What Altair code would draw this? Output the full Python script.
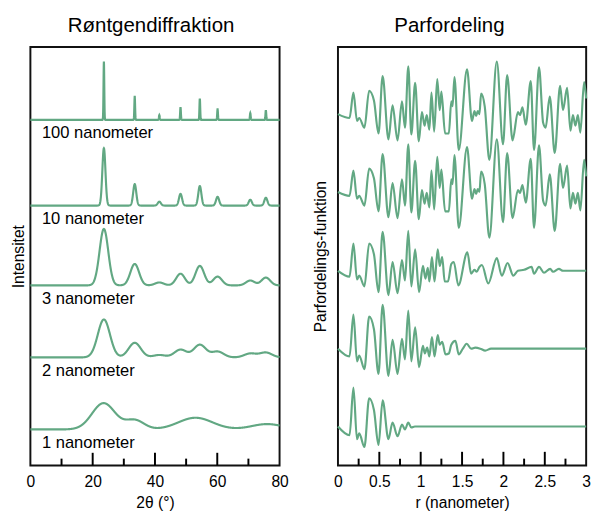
import altair as alt
import numpy as np
import pandas as pd

GREEN = "#62a883"
FONT = "Liberation Sans"

SIZES = ["100 nanometer", "10 nanometer", "3 nanometer", "2 nanometer", "1 nanometer"]
XRD_OFFSETS = [355, 267, 185, 111, 37]
PDF_OFFSETS = [360, 280, 200, 120, 40]

# ---- X-ray diffraction peaks (2theta, height, width) ----
XRD_POS = [23.6, 33.5, 41.4, 48.2, 54.4, 60.1, 70.6, 75.6]
XRD_H_100 = [60, 24, 5, 13, 22, 11, 7, 10]
XRD_H_10 = [59, 22, 4, 12, 20, 9, 6, 8]
XRD_H_3 = [58, 22, 3, 12, 20, 9, 5, 8]
XRD_H_2 = [39, 15, 2.5, 8, 13, 6, 4, 5]
XRD_W_100 = 0.12
XRD_W_10 = 0.5
XRD_W_3 = 1.4
XRD_W_2 = 1.95
XRD_POS_1 = [23.5, 33.5, 53.0, 76.0]
XRD_H_1 = [27, 9.5, 12, 5.5]
XRD_W_1 = [3.7, 3.0, 5.5, 5.0]

# ---- pair distribution function, read extrema (r in nm, g relative) ----
PDF_R_100 = [0, 0.14, 0.187, 0.23, 0.257, 0.32, 0.377, 0.435, 0.49, 0.54, 0.61, 0.66, 0.72, 0.774, 0.81,
             0.85, 0.887, 0.933, 0.977, 1.015, 1.047, 1.073, 1.105, 1.13, 1.163, 1.20, 1.23, 1.25, 1.295,
             1.34, 1.37, 1.385, 1.408, 1.46, 1.56, 1.62, 1.65, 1.67, 1.69, 1.71, 1.73, 1.774, 1.83, 1.92,
             1.995, 2.045, 2.11, 2.175, 2.20, 2.23, 2.27, 2.33, 2.37, 2.43, 2.48, 2.51, 2.56, 2.62, 2.685,
             2.72, 2.77, 2.81, 2.84, 2.87, 2.90, 2.93, 2.975, 3.0]
PDF_G_100 = [1, -3, 23, -6, -3, -13, 25, 15, -19, 40, -25, 10, -26, 14, -13,
             50, -20, 33, -27, 3, -11, 0, -15, 23, -17, 37, 5, 24, -19,
             -19, 14, 9, 39, -36, 47, -6, 4, -1, 4, 1, 22, 9, -46, 55,
             -30, 41, -26, 3, 0, 8, -10, 35, -36, 49, -8, -13, 19, -39, 30,
             5, 28, -16, 0, -11, 0, -18, 34, 17]
PDF_R_10 = PDF_R_100
PDF_G_10 = PDF_G_100
PDF_R_3 = [0, 0.14, 0.187, 0.23, 0.257, 0.32, 0.377, 0.435, 0.49, 0.54, 0.61, 0.66, 0.72, 0.774, 0.81,
           0.85, 0.887, 0.933, 0.98, 1.027, 1.058, 1.086, 1.105, 1.136, 1.167, 1.206, 1.23, 1.26, 1.29,
           1.33, 1.37, 1.40, 1.455, 1.564, 1.61, 1.65, 1.677, 1.71, 1.74, 1.817, 1.92, 1.98, 2.05, 2.12,
           2.175, 2.25, 2.34, 2.37, 2.43, 2.49, 2.565, 2.60, 2.67, 2.72, 3.0]
PDF_G_3 = [0, -6, 28, -9, -5, -16, 28, 17, -22, 40, -25, 9, -23, 11, -10,
           41, -16, 22, -22, 5, -8, 3, -11, 14, -11, 22, 5, 14, -11,
           -11, 7, 9, -15, 19, -3, 1, -1, 4, 6, -13, 13, -5, 8, -5,
           0, 1, 4, -3, 4, -2, 2, -1, 2, 0, 0]
PDF_R_2 = [0, 0.14, 0.187, 0.23, 0.257, 0.32, 0.377, 0.435, 0.49, 0.54, 0.61, 0.66, 0.72, 0.774, 0.81,
           0.85, 0.887, 0.933, 0.98, 1.027, 1.05, 1.078, 1.105, 1.136, 1.167, 1.206, 1.23, 1.26, 1.30,
           1.34, 1.37, 1.42, 1.46, 1.51, 1.556, 1.61, 1.66, 1.72, 1.78, 1.85, 3.0]
PDF_G_2 = [0, -8, 35, -13, -7, -21, 33, 20, -26, 45, -28, 9, -26, 10, -11,
           39, -13, 22, -19, 3, -5, 1, -8, 12, -8, 14, 4, 7, -6,
           -5, 4, 8, -6, 0, 5, 0, 1, 0, -2, 0, 0]
PDF_R_1 = [0, 0.14, 0.187, 0.23, 0.257, 0.32, 0.377, 0.435, 0.49, 0.54, 0.61, 0.66, 0.72, 0.774, 0.81,
           0.85, 0.887, 0.93, 3.0]
PDF_G_1 = [0, -9, 40, -13, -7, -21, 29, 17, -19, 27, -13, 4, -10, 2, -3, 4, -1, 0, 0]

XRD_TICKS_MAJOR = [20, 40, 60]
XRD_TICKS_MINOR = [10, 30, 50, 70]
PDF_TICKS_MAJOR = [0.5, 1, 1.5, 2, 2.5]
PDF_TICKS_MINOR = [0.25, 0.75, 1.25, 1.75, 2.25, 2.75]

# ---- build tables ----
grid = np.arange(0, 80.0001, 0.04)


def peaks(pos, hs, ws):
    ws = ws if isinstance(ws, list) else [ws] * len(pos)
    y = np.zeros_like(grid)
    for p, h, w in zip(pos, hs, ws):
        y += h * np.exp(-((grid - p) ** 2) / (2 * w * w))
    return y


xrd_specs = [
    (XRD_POS, XRD_H_100, XRD_W_100),
    (XRD_POS, XRD_H_10, XRD_W_10),
    (XRD_POS, XRD_H_3, XRD_W_3),
    (XRD_POS, XRD_H_2, XRD_W_2),
    (XRD_POS_1, XRD_H_1, XRD_W_1),
]
xrd_frames = []
for name, off, (p, h, w) in zip(SIZES, XRD_OFFSETS, xrd_specs):
    xrd_frames.append(pd.DataFrame({"x": grid, "y": peaks(p, h, w) + off, "size": name}))
df_xrd = pd.concat(xrd_frames)

pdf_specs = [(PDF_R_100, PDF_G_100), (PDF_R_10, PDF_G_10), (PDF_R_3, PDF_G_3),
             (PDF_R_2, PDF_G_2), (PDF_R_1, PDF_G_1)]
pdf_frames = []
for name, off, (r, g) in zip(SIZES, PDF_OFFSETS, pdf_specs):
    pdf_frames.append(pd.DataFrame({"r": r, "g": np.array(g, float) + off, "size": name}))
df_pdf = pd.concat(pdf_frames)

df_lab = pd.DataFrame({"x": [3.7] * 5, "y": XRD_OFFSETS, "label": SIZES})

WL, WR, H = 256, 255, 430

xs = alt.Scale(domain=[0, 80], nice=False, zero=False)
ys = alt.Scale(domain=[0, H], nice=False, zero=False)
rs = alt.Scale(domain=[0, 3], nice=False, zero=False)

yaxis_l = alt.Axis(title="Intensitet", labels=False, ticks=False, grid=False, domain=False, titlePadding=4)
yaxis_r = alt.Axis(title="Parfordelings-funktion", labels=False, ticks=False, grid=False, domain=False,
                   titlePadding=10)

xrd_line = alt.Chart(df_xrd).mark_line(color=GREEN, strokeWidth=2.2).encode(
    x=alt.X("x:Q", scale=xs, axis=alt.Axis(values=[0, 20, 40, 60, 80], title="2θ (°)", grid=False,
                                            domain=False, ticks=False, tickSize=0, labelPadding=9,
                                            labelFlush=False, titlePadding=5)),
    y=alt.Y("y:Q", scale=ys, axis=yaxis_l),
    detail="size:N",
)
xrd_text = alt.Chart(df_lab).mark_text(align="left", baseline="alphabetic", dy=19, font=FONT,
                                       fontSize=17, color="black").encode(
    x=alt.X("x:Q", scale=xs), y=alt.Y("y:Q", scale=ys), text="label:N")
xrd_major = alt.Chart(pd.DataFrame({"t": XRD_TICKS_MAJOR})).mark_rule(color="black", strokeWidth=2).encode(
    x=alt.X("t:Q", scale=xs), y=alt.value(H), y2=alt.value(H - 13))
xrd_minor = alt.Chart(pd.DataFrame({"t": XRD_TICKS_MINOR})).mark_rule(color="black", strokeWidth=2).encode(
    x=alt.X("t:Q", scale=xs), y=alt.value(H), y2=alt.value(H - 7))

left = alt.layer(xrd_line, xrd_text, xrd_major, xrd_minor).properties(
    width=WL, height=H,
    title=alt.TitleParams("Røntgendiffraktion", fontSize=21, font=FONT, fontWeight="normal",
                          anchor="middle", offset=11, color="black", dx=-4))

pdf_line = alt.Chart(df_pdf).mark_line(color=GREEN, strokeWidth=2.2, interpolate="monotone").encode(
    x=alt.X("r:Q", scale=rs, axis=alt.Axis(values=[0, 0.5, 1, 1.5, 2, 2.5, 3], format="~g",
                                            title="r (nanometer)", grid=False, domain=False, ticks=False,
                                            tickSize=0, labelPadding=9, labelFlush=False, titlePadding=5)),
    y=alt.Y("g:Q", scale=ys, axis=yaxis_r),
    detail="size:N",
)
pdf_major = alt.Chart(pd.DataFrame({"t": PDF_TICKS_MAJOR})).mark_rule(color="black", strokeWidth=2).encode(
    x=alt.X("t:Q", scale=rs), y=alt.value(H), y2=alt.value(H - 14))
pdf_minor = alt.Chart(pd.DataFrame({"t": PDF_TICKS_MINOR})).mark_rule(color="black", strokeWidth=2).encode(
    x=alt.X("t:Q", scale=rs), y=alt.value(H), y2=alt.value(H - 7))

right = alt.layer(pdf_line, pdf_major, pdf_minor).properties(
    width=WR, height=H,
    title=alt.TitleParams("Parfordeling", fontSize=21, font=FONT, fontWeight="normal",
                          anchor="middle", offset=11, color="black", dx=-13))

chart = alt.hconcat(left, right, spacing=23).properties(
    padding={"left": 2, "top": 0, "right": 0, "bottom": 0}
).configure_view(stroke="#111111", strokeWidth=2).configure_axis(
    labelFont=FONT, titleFont=FONT, labelFontSize=16, titleFontSize=16, titleFontWeight="normal",
    labelColor="black", titleColor="black"
)

chart.save("out.html", embed_options={"renderer": "svg", "actions": False})
